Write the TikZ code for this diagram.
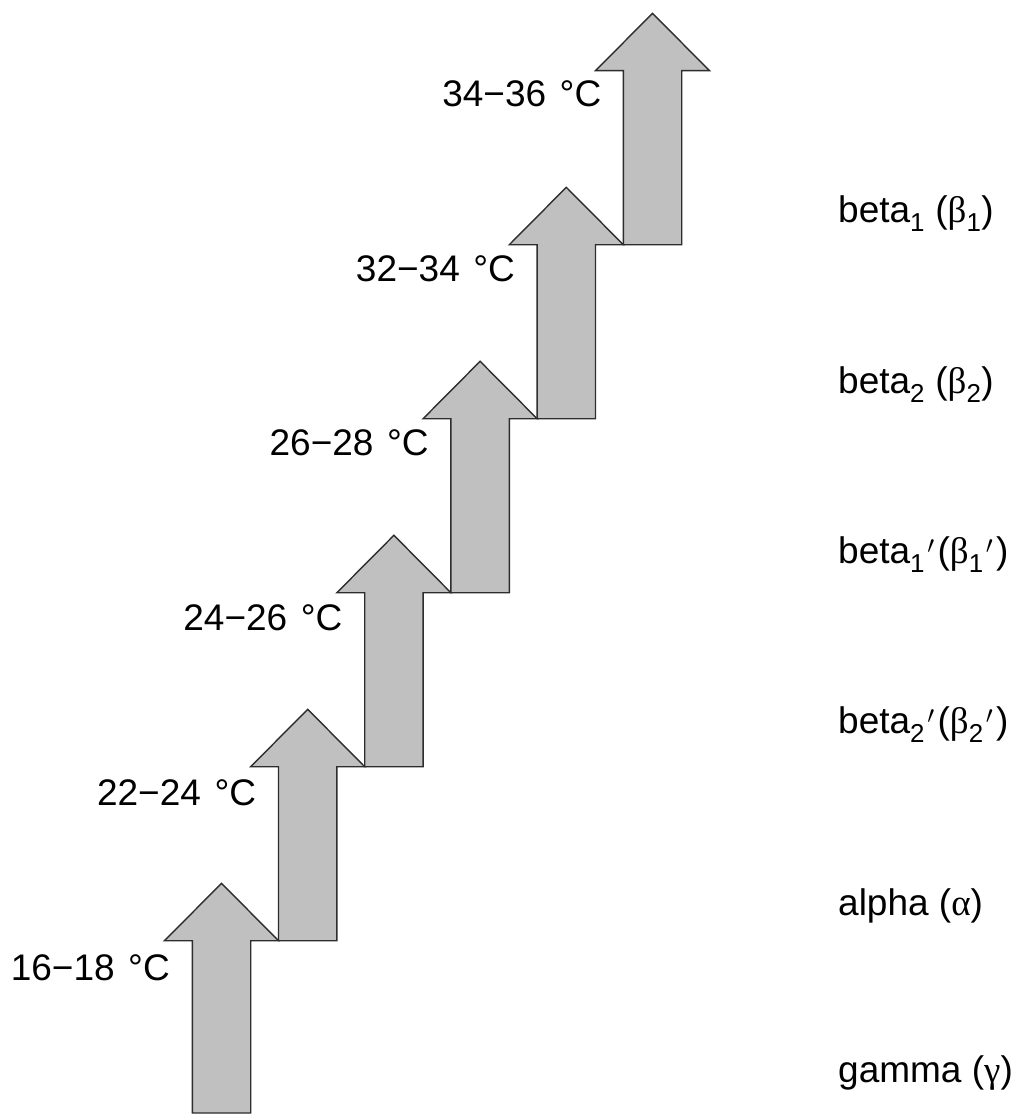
\documentclass[tikz,border=0pt]{standalone}
\usepackage{fontspec}
\setmainfont{Liberation Sans}
\newfontfamily\grk{Liberation Serif}
\definecolor{arrowfill}{RGB}{192,192,192}
\definecolor{arrowline}{RGB}{45,45,45}
\newcommand{\prm}{\kern0.06em$^{\prime}$\kern0.08em}
\newcommand{\degC}{\kern0.09em°C}
\tikzset{
  stair/.style={fill=arrowfill, draw=arrowline, line width=1.4pt, line join=miter},
  templabel/.style={anchor=base east, inner sep=0pt, font=\fontsize{37}{44}\selectfont},
  phaselabel/.style={anchor=base west, inner sep=0pt, font=\fontsize{37}{44}\selectfont},
}
\begin{document}
\begin{tikzpicture}[x=1pt,y=-1pt]
\useasboundingbox[fill=white] (0,0) rectangle (1020,1116);
% stair of arrows
\foreach \k in {0,...,5} {
  \pgfmathsetmacro\cx{221.5+86.2*\k}
  \pgfmathsetmacro\ty{883.3-174*\k}
  \pgfmathsetmacro\by{940.7-174*\k}
  \pgfmathsetmacro\bt{ifthenelse(\k==0,1113,\by+174)}
  \draw[stair] (\cx-29.2,\bt) -- (\cx-29.2,\by) -- (\cx-57,\by) -- (\cx,\ty)
     -- (\cx+57,\by) -- (\cx+29.2,\by) -- (\cx+29.2,\bt) -- cycle;
  \coordinate (tip\k) at (\cx,\ty);
}
% temperature labels
\node[templabel] (t0) at (170,980)   {16−18 \degC};
\node[templabel] (t1) at (256.3,805.3) {22−24 \degC};
\node[templabel] (t2) at (342.6,630.6) {24−26 \degC};
\node[templabel] (t3) at (428.9,455.9) {26−28 \degC};
\node[templabel] (t4) at (515.2,281.2) {32−34 \degC};
\node[templabel] (t5) at (601.5,106.5) {34−36 \degC};
% phase labels
\node[phaselabel] (p1) at (838,222)  {beta\textsubscript{1} ({\grk β}\textsubscript{1})};
\node[phaselabel] (p2) at (838,393)  {beta\textsubscript{2} ({\grk β}\textsubscript{2})};
\node[phaselabel] (p3) at (838,563)  {beta\textsubscript{1}\prm({\grk β}\textsubscript{1}\prm)};
\node[phaselabel] (p4) at (838,733)  {beta\textsubscript{2}\prm({\grk β}\textsubscript{2}\prm)};
\node[phaselabel] (p5) at (838,915)  {alpha ({\grk α})};
\node[phaselabel] (p6) at (838,1082) {gamma ({\grk γ})};
\end{tikzpicture}
\end{document}
